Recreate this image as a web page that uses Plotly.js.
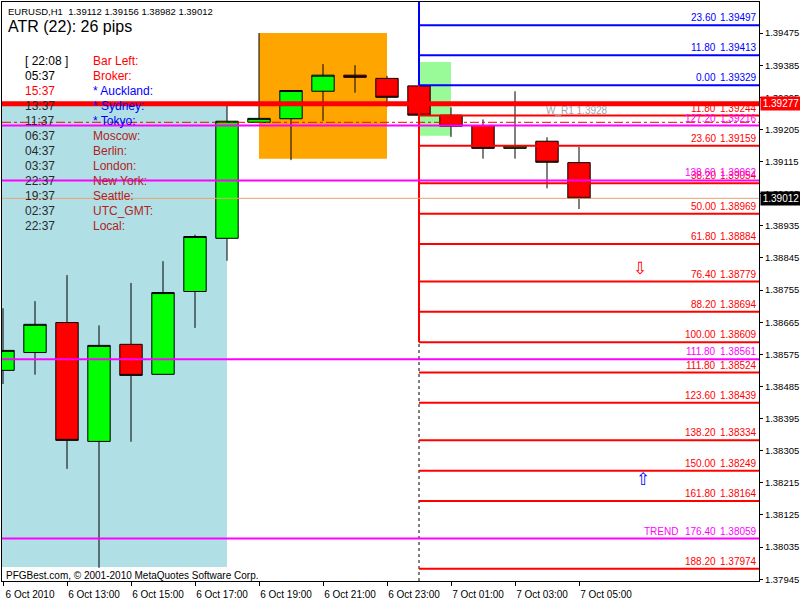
<!DOCTYPE html>
<html>
<head>
<meta charset="utf-8">
<script src="https://cdn.plot.ly/plotly-3.0.1.min.js"></script>
<style>html,body{margin:0;padding:0;background:#fff;}#chart{width:800px;height:600px;}</style>
</head>
<body>
<div id="chart"></div>
<script>
// ---- DATA ----
const times = ['2010-10-06 11:00','2010-10-06 12:00','2010-10-06 13:00','2010-10-06 14:00','2010-10-06 15:00','2010-10-06 16:00','2010-10-06 17:00','2010-10-06 18:00','2010-10-06 19:00','2010-10-06 20:00','2010-10-06 21:00','2010-10-06 22:00','2010-10-06 23:00','2010-10-07 00:00','2010-10-07 01:00','2010-10-07 02:00','2010-10-07 03:00','2010-10-07 04:00','2010-10-07 05:00'];
const opens  = [1.38530,1.38580,1.38664,1.38331,1.38603,1.38519,1.38751,1.38900,1.39225,1.39235,1.39312,1.39357,1.39348,1.39327,1.39245,1.39216,1.39152,1.39172,1.39112];
const highs  = [1.38704,1.38724,1.38797,1.38656,1.38775,1.38836,1.38910,1.39276,1.39475,1.39314,1.39388,1.39385,1.39355,1.39327,1.39267,1.39233,1.39312,1.39183,1.39156];
const lows   = [1.38492,1.38518,1.38254,1.37977,1.38330,1.38519,1.38649,1.38837,1.39225,1.39119,1.39229,1.39308,1.39269,1.39245,1.39184,1.39123,1.39123,1.39040,1.38982];
const closes = [1.38586,1.38659,1.38334,1.38600,1.38516,1.38748,1.38905,1.39228,1.39236,1.39314,1.39357,1.39351,1.39295,1.39245,1.39214,1.39152,1.39158,1.39113,1.39012];

const xTickVals = ['2010-10-06 11:00','2010-10-06 13:00','2010-10-06 15:00','2010-10-06 17:00','2010-10-06 19:00','2010-10-06 21:00','2010-10-06 23:00','2010-10-07 01:00','2010-10-07 03:00','2010-10-07 05:00'];
const xTickText = ['6 Oct 2010','6 Oct 13:00','6 Oct 15:00','6 Oct 17:00','6 Oct 19:00','6 Oct 21:00','6 Oct 23:00','7 Oct 01:00','7 Oct 03:00','7 Oct 05:00'];

const fibStart = '2010-10-07 00:00';
const fibEnd = '2010-10-07 12:00';
const blueLevels = ['23.60','11.80','0.00'];
const bluePrices = [1.39497,1.39413,1.39329];
const redLevels = ['11.80','23.60','38.20','50.00','61.80','76.40','88.20','100.00','111.80','123.60','138.20','150.00','161.80','188.20'];
const redPrices = [1.39244,1.39159,1.39054,1.38969,1.38884,1.38779,1.38694,1.38609,1.38524,1.38439,1.38334,1.38249,1.38164,1.37974];
const magLevels = ['127.20','138.60','111.80','176.40'];
const magPrices = [1.39216,1.39062,1.38561,1.38059];
const magTags = ['','','','TREND'];

const resistPrice = 1.39277;   // thick red line
const resistLabel = 'W_R1 1.3928';
const pivotDashPrice = 1.39225;
const bidPrice = 1.39012;

const panelRange = {x0:'2010-10-06 10:00', x1:'2010-10-06 18:00', y0:1.37979, y1:1.39279};
const orangeBox = {x0:'2010-10-06 19:00', x1:'2010-10-06 23:00', y0:1.39123, y1:1.39475};
const greenBox = {x0:'2010-10-07 00:00', x1:'2010-10-07 01:00', y0:1.39187, y1:1.39394};

const downArrowPrice = 1.38817;
const upArrowPrice = 1.38225;

const headerText = 'EURUSD,H1  1.39112 1.39156 1.38982 1.39012';
const atrText = 'ATR (22): 26 pips';
const clockTimes = ['[ 22:08 ]','05:37','15:37','13:37','11:37','06:37','04:37','03:37','22:37','19:37','02:37','22:37'];
const clockCities = ['Bar Left:','Broker:','* Auckland:','* Sydney:','* Tokyo:','Moscow:','Berlin:','London:','New York:','Seattle:','UTC_GMT:','Local:'];
const footerText = 'PFGBest.com, \u00a9 2001-2010 MetaQuotes Software Corp.';

// ---- STYLE ----
const timeColors = ['#000','#000','#ff0000','#2a2a2a','#2a2a2a','#2a2a2a','#2a2a2a','#2a2a2a','#2a2a2a','#2a2a2a','#2a2a2a','#2a2a2a'];
const cityColors = ['#ff0000','#ff0000','#0000ff','#0000ff','#0000ff','#b22222','#b22222','#b22222','#b22222','#b22222','#b22222','#b22222'];
const FONT = 'Liberation Sans, Arial, sans-serif';
const L = 2, T = 2, W = 757, H = 579;
const px = x => (x - L) / W;
const py = y => 1 - (y - T) / H;

const shapes = [];
// background rectangles (below candles)
shapes.push({type:'rect', layer:'below', xref:'x', yref:'y', x0:panelRange.x0, x1:panelRange.x1, y0:panelRange.y0, y1:panelRange.y1, fillcolor:'#B0E0E6', line:{width:0}});
shapes.push({type:'rect', layer:'below', xref:'x', yref:'y', x0:orangeBox.x0, x1:orangeBox.x1, y0:orangeBox.y0, y1:orangeBox.y1, fillcolor:'#FFA500', line:{width:0}});
shapes.push({type:'rect', layer:'below', xref:'x', yref:'y', x0:greenBox.x0, x1:greenBox.x1, y0:greenBox.y0, y1:greenBox.y1, fillcolor:'#98FB98', line:{width:0}});

// period separator
shapes.push({type:'line', layer:'above', xref:'x', yref:'paper', x0:fibStart, x1:fibStart, y0:0, y1:1, line:{color:'#000', width:1, dash:'3px,3px'}});
// fib verticals
shapes.push({type:'line', layer:'above', xref:'x', yref:'paper', x0:fibStart, x1:fibStart, y0:(bluePrices[2]-1.37940)/(1.39562-1.37940), y1:1, line:{color:'#0000ff', width:2}});
shapes.push({type:'line', layer:'above', xref:'x', yref:'y', x0:fibStart, x1:fibStart, y0:redPrices[7], y1:bluePrices[2], line:{color:'#ff0000', width:2}});
// fib horizontals
bluePrices.forEach(p => shapes.push({type:'line', layer:'above', xref:'x', yref:'y', x0:fibStart, x1:fibEnd, y0:p, y1:p, line:{color:'#0000ff', width:2}}));
redPrices.forEach(p => shapes.push({type:'line', layer:'above', xref:'x', yref:'y', x0:fibStart, x1:fibEnd, y0:p, y1:p, line:{color:'#ff0000', width:2}}));
// full-width lines
shapes.push({type:'line', layer:'above', xref:'paper', yref:'y', x0:0, x1:1, y0:bidPrice, y1:bidPrice, line:{color:'#E9A274', width:1}});
shapes.push({type:'line', layer:'above', xref:'paper', yref:'y', x0:0, x1:1, y0:pivotDashPrice, y1:pivotDashPrice, line:{color:'#ff0000', width:1, dash:'dashdot'}});
magPrices.forEach(p => shapes.push({type:'line', layer:'above', xref:'paper', yref:'y', x0:0, x1:1, y0:p, y1:p, line:{color:'#ff00ff', width:2}}));
shapes.push({type:'line', layer:'above', xref:'paper', yref:'y', x0:0, x1:1, y0:resistPrice, y1:resistPrice, line:{color:'#ff0000', width:5}});

const ann = [];
const lvlX = px(717), prcX = px(758);
function fibLabel(level, price, color) {
  ann.push({xref:'paper', yref:'y', x:lvlX, y:price, xanchor:'right', yanchor:'bottom', yshift:1, text:level, showarrow:false, font:{family:FONT, size:10, color:color}, borderpad:0});
  ann.push({xref:'paper', yref:'y', x:prcX, y:price, xanchor:'right', yanchor:'bottom', yshift:1, text:price.toFixed(5), showarrow:false, font:{family:FONT, size:10, color:color}, borderpad:0});
}
bluePrices.forEach((p,i) => fibLabel(blueLevels[i], p, '#0000ff'));
redPrices.forEach((p,i) => fibLabel(redLevels[i], p, '#ff0000'));
magPrices.forEach((p,i) => {
  fibLabel(magLevels[i], p, '#ff00ff');
  if (magTags[i]) ann.push({xref:'paper', yref:'y', x:px(679), y:p, xanchor:'right', yanchor:'bottom', yshift:1, text:magTags[i], showarrow:false, font:{family:FONT, size:10, color:'#ff00ff'}, borderpad:0});
});
ann.push({xref:'paper', yref:'y', x:px(545), y:resistPrice, xanchor:'left', yanchor:'top', yshift:0, text:resistLabel, showarrow:false, font:{family:FONT, size:10, color:'#9aa4ae'}, borderpad:0});
// price boxes on the axis
ann.push({xref:'paper', yref:'y', x:1, xshift:1, y:resistPrice, xanchor:'left', yanchor:'middle', text:resistPrice.toFixed(5), showarrow:false, bgcolor:'#ff0000', font:{family:FONT, size:10, color:'#fff'}, borderpad:1, width:38});
ann.push({xref:'paper', yref:'y', x:1, xshift:1, y:bidPrice, xanchor:'left', yanchor:'middle', text:bidPrice.toFixed(5), showarrow:false, bgcolor:'#000', font:{family:FONT, size:10, color:'#fff'}, borderpad:1, width:38});
// arrows
ann.push({xref:'paper', yref:'y', x:px(640), y:downArrowPrice, xanchor:'center', yanchor:'middle', text:'\u21E9', showarrow:false, font:{family:'DejaVu Sans', size:17, color:'#ff0000'}});
ann.push({xref:'paper', yref:'y', x:px(643), y:upArrowPrice, xanchor:'center', yanchor:'middle', text:'\u21E7', showarrow:false, font:{family:'DejaVu Sans', size:17, color:'#0000ff'}});
// header texts
ann.push({xref:'paper', yref:'paper', x:px(7), y:py(11), xanchor:'left', yanchor:'middle', text:headerText, showarrow:false, font:{family:FONT, size:9.5, color:'#000'}, borderpad:0});
ann.push({xref:'paper', yref:'paper', x:px(7), y:py(26), xanchor:'left', yanchor:'middle', text:atrText, showarrow:false, font:{family:FONT, size:16, color:'#000'}, borderpad:0});
clockTimes.forEach((t,i) => {
  const yy = py(61 + 15*i);
  ann.push({xref:'paper', yref:'paper', x:px(24), y:yy, xanchor:'left', yanchor:'middle', text:t, showarrow:false, font:{family:FONT, size:12, color:timeColors[i]}, borderpad:0});
  ann.push({xref:'paper', yref:'paper', x:px(92), y:yy, xanchor:'left', yanchor:'middle', text:clockCities[i], showarrow:false, font:{family:FONT, size:12, color:cityColors[i]}, borderpad:0});
});
ann.push({xref:'paper', yref:'paper', x:px(5), y:py(575), xanchor:'left', yanchor:'middle', text:footerText, showarrow:false, font:{family:FONT, size:10, color:'#000'}, borderpad:0});

const trace = {
  type:'candlestick', x:times, open:opens, high:highs, low:lows, close:closes,
  increasing:{line:{color:'#000', width:1}, fillcolor:'#00FF00'},
  decreasing:{line:{color:'#000', width:1}, fillcolor:'#FF0000'},
  whiskerwidth:0, hoverinfo:'skip', showlegend:false
};

const layout = {
  width:800, height:600,
  margin:{l:L, r:800-L-W, t:T, b:600-T-H, pad:0},
  paper_bgcolor:'#fff', plot_bgcolor:'#fff',
  font:{family:FONT, size:10, color:'#000'},
  showlegend:false, boxgap:0, hovermode:false,
  xaxis:{type:'date', range:['2010-10-06 10:58:07.5','2010-10-07 10:37:30'],
    rangeslider:{visible:false}, showgrid:false, zeroline:false,
    tickmode:'array', tickvals:xTickVals, ticktext:xTickText,
    ticks:'outside', ticklen:4, tickcolor:'#000', ticklabelshift:27,
    showline:true, linecolor:'#000', linewidth:1, mirror:true,
    tickfont:{family:FONT, size:10, color:'#000'}},
  yaxis:{side:'right', range:[1.37940,1.39562], showgrid:false, zeroline:false,
    tickmode:'linear', tick0:1.37945, dtick:0.0009, tickformat:'.5f',
    ticks:'outside', ticklen:3, tickcolor:'#000',
    showline:true, linecolor:'#000', linewidth:1, mirror:true,
    tickfont:{family:FONT, size:9.5, color:'#000'}},
  shapes:shapes, annotations:ann
};
Plotly.newPlot('chart', [trace], layout, {staticPlot:true, displayModeBar:false});
</script>
</body>
</html>
